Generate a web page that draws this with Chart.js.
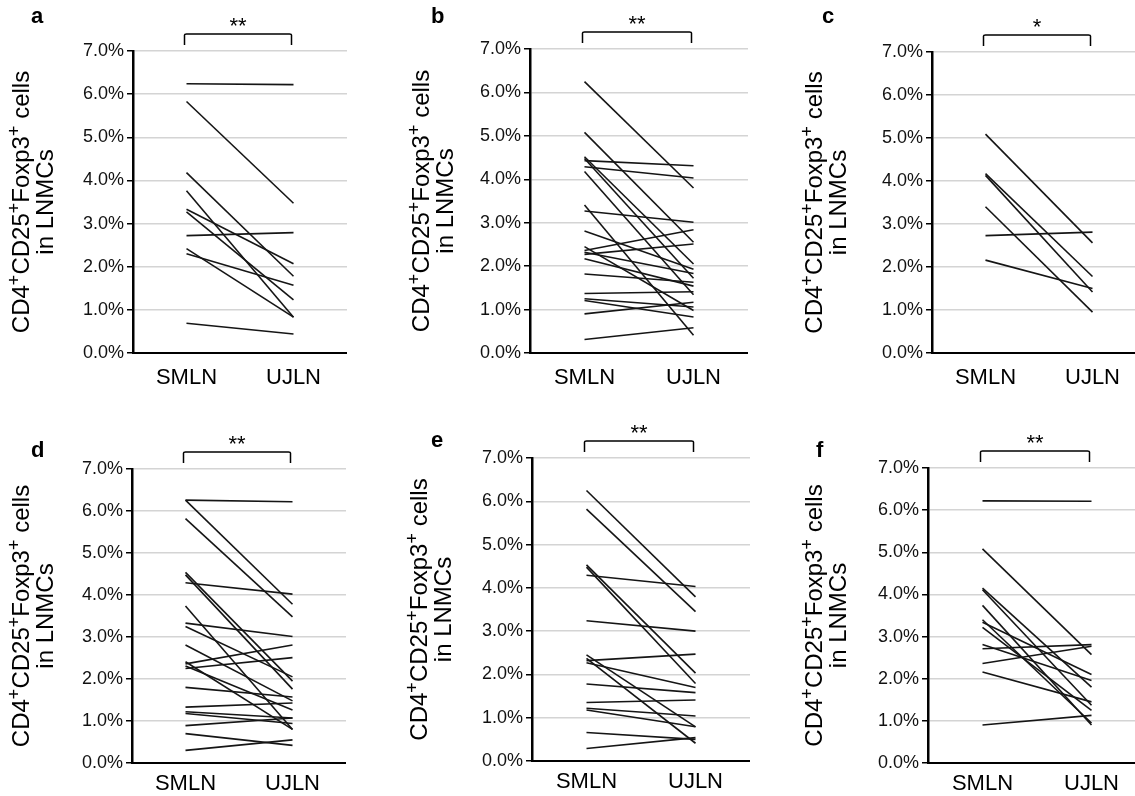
<!DOCTYPE html>
<html>
<head>
<meta charset="utf-8">
<script src="https://cdn.jsdelivr.net/npm/chart.js@4"></script>
<style>
  html, body { margin: 0; padding: 0; background: #fff; overflow: hidden; width: 1135px; height: 796px; }
  canvas { position: absolute; }
  .letter { position: absolute; font: bold 22px 'Liberation Sans', Arial, sans-serif; color: #000; }
</style>
</head>
<body>
<script>
// categories and axis ticks
const categories = ['SMLN', 'UJLN'];
const yTickValues = [0, 1, 2, 3, 4, 5, 6, 7];
// '+' is drawn as a superscript
const yTitle = ['CD4+CD25+Foxp3+ cells', 'in LNMCs'];

// paired values (% of LNMCs), one entry per patient
const aSMLN = [6.24, 5.83, 4.18, 3.76, 3.33, 3.27, 2.72, 2.42, 2.30, 0.69];
const aUJLN = [6.22, 3.47, 1.78, 0.83, 2.07, 1.23, 2.79, 0.83, 1.57, 0.44];

const bSMLN = [6.25, 5.08, 4.52, 4.48, 4.43, 4.29, 4.18, 3.41, 3.27, 2.81, 2.45, 2.36, 2.32, 2.27, 2.17, 1.82, 1.37, 1.25, 1.21, 0.90, 0.31];
const bUJLN = [3.80, 2.55, 2.05, 1.72, 4.31, 4.03, 1.34, 0.41, 3.01, 1.93, 0.98, 2.84, 1.83, 2.51, 1.54, 1.63, 1.41, 1.06, 0.83, 1.17, 0.58];

const cSMLN = [5.09, 4.17, 4.13, 3.40, 2.73, 2.16];
const cUJLN = [2.56, 1.78, 1.42, 0.95, 2.81, 1.50];

const dSMLN = [6.26, 6.26, 5.82, 4.54, 4.48, 4.29, 3.74, 3.33, 3.25, 2.81, 2.41, 2.36, 2.31, 2.25, 1.80, 1.33, 1.22, 1.18, 0.89, 0.70, 0.30];
const dUJLN = [6.22, 3.78, 3.48, 1.95, 1.76, 4.02, 0.80, 3.01, 2.05, 1.48, 0.80, 2.81, 1.26, 2.51, 1.57, 1.43, 1.07, 0.94, 1.07, 0.42, 0.55];

const eSMLN = [6.25, 5.82, 4.53, 4.48, 4.29, 3.24, 2.45, 2.37, 2.32, 2.27, 1.78, 1.35, 1.22, 1.18, 0.66, 0.29];
const eUJLN = [3.79, 3.45, 2.03, 1.79, 4.03, 3.00, 0.79, 0.41, 2.47, 1.70, 1.58, 1.41, 1.04, 0.79, 0.50, 0.54];

const fSMLN = [6.22, 5.08, 4.15, 4.11, 3.74, 3.40, 3.34, 3.22, 2.81, 2.71, 2.36, 2.16, 0.90];
const fUJLN = [6.21, 2.57, 1.80, 1.37, 0.90, 0.95, 2.10, 1.25, 1.96, 2.81, 2.77, 1.45, 1.13];

const panelLetters = ['a', 'b', 'c', 'd', 'e', 'f'];
const significance = ['**', '**', '*', '**', '**', '**'];

// page geometry of each panel (left edge of canvas, plot box)
const layout = [
  { left: 0,   top: 0,   axisX: 133, right: 347,  yTop: 51,  yBottom: 353, pad: 4, lx: 31,  ly: 3 },
  { left: 400, top: 0,   axisX: 530, right: 748,  yTop: 49,  yBottom: 353, pad: 4, lx: 431, ly: 3 },
  { left: 793, top: 0,   axisX: 932, right: 1146, yTop: 52,  yBottom: 353, pad: 4, lx: 822, ly: 3 },
  { left: 0,   top: 410, axisX: 132, right: 346,  yTop: 469, yBottom: 763, pad: 0, lx: 31,  ly: 437 },
  { left: 398, top: 410, axisX: 532, right: 750,  yTop: 458, yBottom: 761, pad: 0, lx: 431, ly: 427 },
  { left: 793, top: 410, axisX: 928, right: 1146, yTop: 468, yBottom: 763, pad: 0, lx: 816, ly: 437 }
];

const series = [[aSMLN, aUJLN], [bSMLN, bUJLN], [cSMLN, cUJLN], [dSMLN, dUJLN], [eSMLN, eUJLN], [fSMLN, fUJLN]];

const FONT = "'Liberation Sans', Arial, sans-serif";

// bracket with stars above the two columns
const bracketPlugin = {
  id: 'bracket',
  afterDraw(chart, args, opts) {
    const ctx = chart.ctx;
    const xs = chart.scales.x;
    const top = chart.chartArea.top;
    const x0 = xs.getPixelForValue(0) - 2, x1 = xs.getPixelForValue(1) - 2;
    ctx.save();
    ctx.strokeStyle = '#000';
    ctx.lineWidth = 1.5;
    ctx.beginPath();
    ctx.moveTo(x0, top - 6);
    ctx.lineTo(x0, top - 16);
    ctx.quadraticCurveTo(x0, top - 17, x0 + 2, top - 17);
    ctx.lineTo(x1 - 2, top - 17);
    ctx.quadraticCurveTo(x1, top - 17, x1, top - 16);
    ctx.lineTo(x1, top - 6);
    ctx.stroke();
    ctx.fillStyle = '#000';
    ctx.font = '22px ' + FONT;
    ctx.textAlign = 'center';
    ctx.textBaseline = 'alphabetic';
    ctx.fillText(opts.stars, (x0 + x1) / 2, top - 18);
    ctx.restore();
  }
};

// rotated y title, '+' raised as superscript
const yTitlePlugin = {
  id: 'ytitle',
  afterDraw(chart) {
    const ctx = chart.ctx;
    const cy = (chart.chartArea.top + chart.chartArea.bottom) / 2;
    const main = '24px ' + FONT, sup = '18px ' + FONT;
    const lineX = [22, 46];
    yTitle.forEach((line, li) => {
      const parts = line.split(/(\+)/).filter(p => p.length);
      let total = 0;
      parts.forEach(p => { ctx.font = p === '+' ? sup : main; total += ctx.measureText(p).width; });
      ctx.save();
      ctx.translate(lineX[li], cy);
      ctx.rotate(-Math.PI / 2);
      ctx.fillStyle = '#000';
      ctx.textBaseline = 'middle';
      ctx.textAlign = 'left';
      let t = -total / 2;
      parts.forEach(p => {
        const isSup = p === '+';
        ctx.font = isSup ? sup : main;
        ctx.fillText(p, t, isSup ? -7 : 0);
        t += ctx.measureText(p).width;
      });
      ctx.restore();
    });
  }
};

layout.forEach((L, i) => {
  const w = L.right - L.left;
  const h = L.yBottom - L.top + 45;
  const cv = document.createElement('canvas');
  cv.width = w; cv.height = h;
  cv.style.left = L.left + 'px';
  cv.style.top = L.top + 'px';
  document.body.appendChild(cv);

  const lt = document.createElement('div');
  lt.className = 'letter';
  lt.style.left = L.lx + 'px';
  lt.style.top = L.ly + 'px';
  lt.textContent = panelLetters[i];
  document.body.appendChild(lt);

  const [sm, uj] = series[i];
  const datasets = sm.map((v, k) => ({
    data: [v, uj[k]],
    borderColor: '#151515',
    borderWidth: 1.6,
    pointRadius: 0,
    tension: 0,
    fill: false
  }));

  new Chart(cv.getContext('2d'), {
    type: 'line',
    data: { labels: categories, datasets },
    options: {
      responsive: false,
      animation: false,
      devicePixelRatio: 1,
      layout: { padding: { top: L.yTop - L.top, left: 0, right: 0, bottom: 0 } },
      plugins: {
        legend: { display: false },
        tooltip: { enabled: false },
        bracket: { stars: significance[i] }
      },
      scales: {
        x: {
          offset: true,
          grid: { display: false },
          border: { display: true, color: '#000', width: 2 },
          ticks: { color: '#000', font: { family: FONT, size: 22 }, padding: L.pad },
          afterFit: s => { s.height = 45; }
        },
        y: {
          min: 0, max: 7,
          afterBuildTicks: s => { s.ticks = yTickValues.map(v => ({ value: v })); },
          grid: { color: '#d4d4d4', lineWidth: 1.5, tickLength: 6, tickColor: '#000', tickWidth: 1.5 },
          border: { display: true, color: '#000', width: 2.5 },
          ticks: {
            color: '#111',
            font: { family: FONT, size: 18 },
            padding: 3,
            callback: v => v.toFixed(1) + '%'
          },
          title: { display: false },
          afterFit: s => { s.width = L.axisX - L.left; }
        }
      }
    },
    plugins: [bracketPlugin, yTitlePlugin]
  });
});
</script>
</body>
</html>
